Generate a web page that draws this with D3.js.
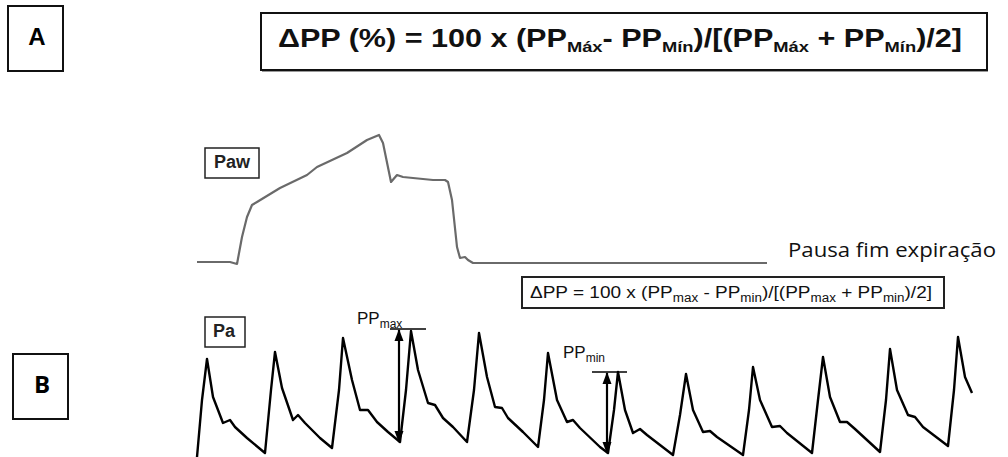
<!DOCTYPE html>
<html>
<head>
<meta charset="utf-8">
<script src="https://cdn.jsdelivr.net/npm/d3@7/dist/d3.min.js"></script>
<style>
  html, body { margin: 0; padding: 0; background: #fff; }
  svg { display: block; }
</style>
</head>
<body>
<script>
// Airway pressure (Paw, cmH2O) over one mechanical breath, time in seconds
const pawTime = [0.00, 0.33, 0.40, 0.45, 0.50, 0.55, 0.60, 0.83, 1.10, 1.20, 1.50, 1.70, 1.82,
                 1.86, 1.94, 2.00, 2.06, 2.16, 2.36, 2.48, 2.51, 2.55, 2.60, 2.63, 2.68, 2.71, 2.76, 5.70];
const pawPressure = [5.0, 5.0, 4.5, 11.25, 16.25, 19.25, 20.0, 23.5, 26.75, 28.75, 32.25, 35.5, 36.75,
                     34.75, 25.0, 26.75, 26.25, 26.0, 25.5, 25.5, 25.0, 20.5, 8.75, 6.0, 6.25, 5.5, 4.75, 4.75];

// Arterial pressure (Pa, mmHg) over the same time base
const paTime = [
  0.00, 0.05, 0.10, 0.16, 0.26, 0.33, 0.38, 0.50, 0.68,
  0.74, 0.78, 0.85, 0.96, 1.01, 1.08, 1.23, 1.35,
  1.42, 1.46, 1.55, 1.63, 1.71, 1.80, 1.91, 2.03,
  2.09, 2.14, 2.21, 2.31, 2.38, 2.46, 2.56, 2.70,
  2.77, 2.82, 2.90, 2.98, 3.05, 3.11, 3.26, 3.41,
  3.47, 3.51, 3.60, 3.70, 3.76, 3.83, 4.03, 4.11,
  4.17, 4.21, 4.28, 4.36, 4.43, 4.50, 4.76,
  4.83, 4.89, 4.96, 5.06, 5.13, 5.20, 5.46,
  5.52, 5.56, 5.63, 5.75, 5.83, 5.90, 6.15,
  6.21, 6.26, 6.33, 6.43, 6.50, 6.58, 6.83,
  6.89, 6.93, 7.00, 7.11, 7.18, 7.26, 7.51,
  7.57, 7.61, 7.68, 7.75
];
const paPressure = [
  59, 87.5, 108, 89, 76, 77.5, 74, 68.5, 61,
  92.5, 111.5, 93.5, 77.5, 80, 76, 68.5, 63.5,
  92.5, 118.5, 97.5, 82.5, 82.5, 76.5, 71.5, 66.5,
  92.5, 122, 102.5, 86, 85, 78.5, 74, 66.5,
  92.5, 121, 99, 84, 83.5, 78.5, 71.5, 64,
  87.5, 111, 87.5, 76.5, 77.5, 73.5, 64, 61,
  82.5, 101.5, 82.5, 71, 73, 70, 60,
  80, 100.5, 82.5, 71.5, 72, 69, 60,
  82.5, 104, 87.5, 74, 74.5, 71, 61,
  87.5, 109, 89, 76.5, 76.5, 73, 61.5,
  87.5, 113, 92.5, 80, 79, 74, 64.5,
  92.5, 119, 99, 91
];

// Pulse pressure markers: [time, top, bottom, tick start, tick end]
const ppMaxMark = [2.02, 123, 66.5, 1.93, 2.29];
const ppMinMark = [4.10, 101.5, 61, 3.95, 4.30];

const width = 1008, height = 457;
const svg = d3.select("body").append("svg")
  .attr("width", width).attr("height", height)
  .attr("viewBox", `0 0 ${width} ${height}`);

svg.append("rect").attr("width", width).attr("height", height).attr("fill", "#fff");

const x = d3.scaleLinear().domain([0, 8]).range([197, 997]);
const yPaw = d3.scaleLinear().domain([0, 40]).range([282, 122]);
const yPa = d3.scaleLinear().domain([50, 130]).range([475, 315]);

const defs = svg.append("defs");
defs.append("marker")
  .attr("id", "head")
  .attr("viewBox", "0 0 12 10")
  .attr("refX", 11).attr("refY", 5)
  .attr("markerWidth", 12).attr("markerHeight", 10)
  .attr("markerUnits", "userSpaceOnUse")
  .attr("orient", "auto-start-reverse")
  .append("path").attr("d", "M0,0.5 L12,5 L0,9.5 Z").attr("fill", "#000");

// ---- Panel labels A / B ----
const sans = "'Liberation Sans', Arial, sans-serif";
svg.append("rect").attr("x", 8).attr("y", 6).attr("width", 55).attr("height", 65)
  .attr("fill", "none").attr("stroke", "#111").attr("stroke-width", 2);
svg.append("text").attr("x", 37).attr("y", 45).attr("text-anchor", "middle")
  .attr("font-family", sans).attr("font-weight", "bold").attr("font-size", 24).text("A");

svg.append("rect").attr("x", 13).attr("y", 354).attr("width", 55).attr("height", 65)
  .attr("fill", "none").attr("stroke", "#111").attr("stroke-width", 2);
svg.append("text").attr("x", 42).attr("y", 393).attr("text-anchor", "middle")
  .attr("font-family", "'Open Sans', sans-serif").attr("font-weight", "bold").attr("font-size", 24).text("B");

// ---- Main ΔPP formula ----
svg.append("rect").attr("x", 261).attr("y", 13).attr("width", 726).attr("height", 57)
  .attr("fill", "none").attr("stroke", "#111").attr("stroke-width", 2);
svg.append("line").attr("x1", 262).attr("x2", 988).attr("y1", 71.5).attr("y2", 71.5)
  .attr("stroke", "#999").attr("stroke-width", 1);

function formula(g, parts, opts) {
  const t = g.append("text")
    .attr("x", opts.x).attr("y", opts.y)
    .attr("font-family", sans)
    .attr("font-weight", opts.weight)
    .attr("font-size", opts.size)
    .attr("fill", "#111");
  if (opts.length) t.attr("textLength", opts.length).attr("lengthAdjust", "spacingAndGlyphs");
  let shifted = false;
  parts.forEach(([str, sub]) => {
    const ts = t.append("tspan").text(str);
    if (sub && !shifted) { ts.attr("dy", opts.dy).attr("font-size", opts.subSize); shifted = true; }
    else if (sub) { ts.attr("font-size", opts.subSize); }
    else if (shifted) { ts.attr("dy", -opts.dy); shifted = false; }
  });
  return t;
}

const bigParts = [["ΔPP (%) = 100 x (PP", false], ["Máx", true], ["- PP", false], ["Mín", true],
  [")/[(PP", false], ["Máx", true], [" + PP", false], ["Mín", true], [")/2]", false]];
formula(svg, bigParts, { x: 278, y: 47, size: 25, subSize: 15, dy: 5, weight: "bold", length: 684 });

// ---- Paw trace ----
const pawBox = svg.append("g");
pawBox.append("rect").attr("x", 205).attr("y", 148).attr("width", 54).attr("height", 30)
  .attr("fill", "none").attr("stroke", "#222").attr("stroke-width", 1.5);
pawBox.append("text").attr("x", 232).attr("y", 168).attr("text-anchor", "middle")
  .attr("font-family", sans).attr("font-weight", "bold").attr("font-size", 18).attr("fill", "#222").text("Paw");

const pawLine = d3.line().x((d, i) => x(pawTime[i])).y((d, i) => yPaw(pawPressure[i]));
svg.append("path").datum(pawPressure).attr("d", pawLine)
  .attr("fill", "none").attr("stroke", "#6a6a6a").attr("stroke-width", 2.2)
  .attr("stroke-linejoin", "round");

svg.append("text").attr("x", 788).attr("y", 257)
  .attr("font-family", "'Open Sans', sans-serif").attr("font-size", 20).attr("fill", "#111")
  .attr("textLength", 208).attr("lengthAdjust", "spacingAndGlyphs")
  .text("Pausa fim expiração");

// ---- Pa trace ----
svg.append("rect").attr("x", 522).attr("y", 277).attr("width", 422).attr("height", 31)
  .attr("fill", "none").attr("stroke", "#222").attr("stroke-width", 2);
const smallParts = [["ΔPP = 100 x (PP", false], ["max", true], [" - PP", false], ["min", true],
  [")/[(PP", false], ["max", true], [" + PP", false], ["min", true], [")/2]", false]];
formula(svg, smallParts, { x: 530, y: 298, size: 17, subSize: 12, dy: 4, weight: "normal", length: 402 });

svg.append("rect").attr("x", 205).attr("y", 317).attr("width", 40).attr("height", 30)
  .attr("fill", "none").attr("stroke", "#222").attr("stroke-width", 1.5);
svg.append("text").attr("x", 224).attr("y", 337).attr("text-anchor", "middle")
  .attr("font-family", sans).attr("font-weight", "bold").attr("font-size", 18).attr("fill", "#222").text("Pa");

const paLine = d3.line().x((d, i) => x(paTime[i])).y((d, i) => yPa(paPressure[i]));
svg.append("path").datum(paPressure).attr("d", paLine)
  .attr("fill", "none").attr("stroke", "#000").attr("stroke-width", 2.4)
  .attr("stroke-linejoin", "round");

// Pulse pressure arrows
function ppMarker(m, label, lx, ly) {
  const [t, top, bottom, t0, t1] = m;
  svg.append("line").attr("x1", x(t0)).attr("x2", x(t1)).attr("y1", yPa(top)).attr("y2", yPa(top))
    .attr("stroke", "#000").attr("stroke-width", 1.3);
  svg.append("line").attr("x1", x(t)).attr("x2", x(t)).attr("y1", yPa(top) + 1).attr("y2", yPa(bottom))
    .attr("stroke", "#000").attr("stroke-width", 2.2)
    .attr("marker-start", "url(#head)").attr("marker-end", "url(#head)");
  const tx = svg.append("text").attr("x", lx).attr("y", ly)
    .attr("font-family", sans).attr("font-size", 17).attr("fill", "#111");
  tx.append("tspan").text("PP");
  tx.append("tspan").attr("dy", 4).attr("font-size", 12).text(label);
}
ppMarker(ppMaxMark, "max", 357, 324);
ppMarker(ppMinMark, "min", 563, 358);
</script>
</body>
</html>
